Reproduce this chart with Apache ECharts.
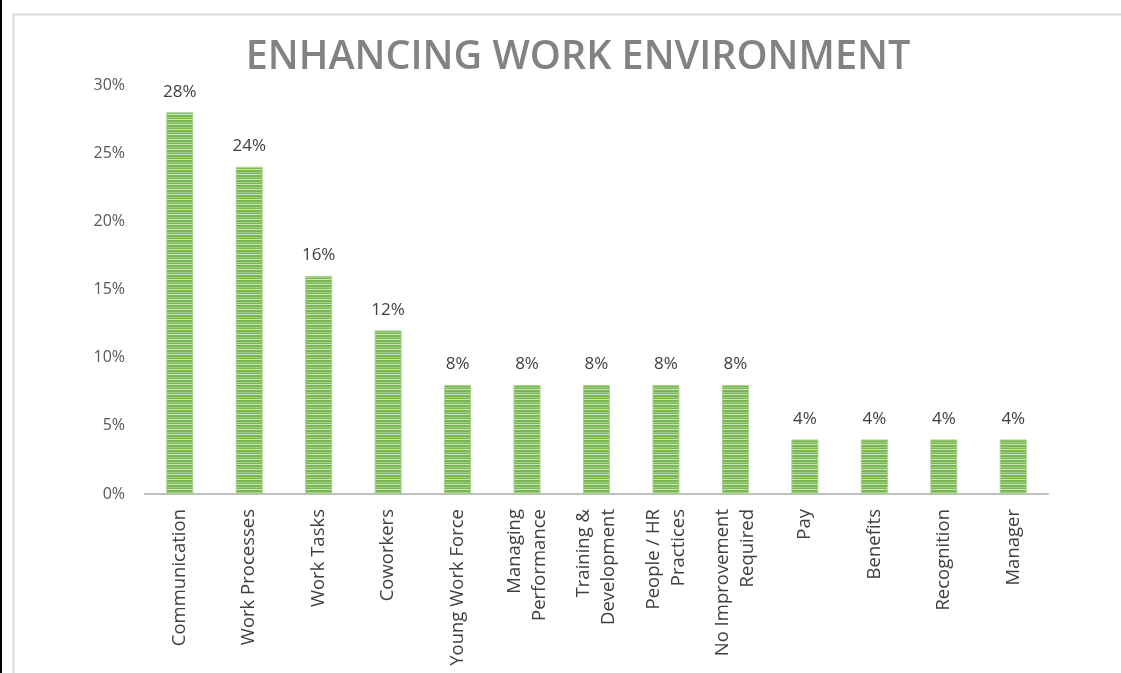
<!DOCTYPE html>
<html>
<head>
<meta charset="utf-8">
<script src="https://cdn.jsdelivr.net/npm/echarts@6/dist/echarts.min.js"></script>
<style>
  html, body { margin: 0; padding: 0; background: #fff; }
  #chart { width: 1121px; height: 673px; }
</style>
</head>
<body>
<div id="chart"></div>
<script>
// Share of responses per improvement area (percent)
const categories = [
  'Communication', 'Work Processes', 'Work Tasks', 'Coworkers', 'Young Work Force',
  'Managing\nPerformance', 'Training &\nDevelopment', 'People / HR\nPractices',
  'No Improvement\nRequired', 'Pay', 'Benefits', 'Recognition', 'Manager'
];
const shares = [28, 24, 16, 12, 8, 8, 8, 8, 8, 4, 4, 4, 4];
const yTicks = { min: 0, max: 30, interval: 5 };

// Striped green fill for the bars
function stripePattern() {
  const c = document.createElement('canvas');
  c.width = 8; c.height = 5;
  const g = c.getContext('2d');
  g.fillStyle = '#77b650'; g.fillRect(0, 0, 8, 5);
  g.fillStyle = '#9fcf82'; g.fillRect(0, 2, 8, 1);
  g.fillStyle = '#cbe6ba'; g.fillRect(0, 4, 8, 1);
  return c;
}

const chart = echarts.init(document.getElementById('chart'), null, { renderer: 'canvas' });
chart.setOption({
  backgroundColor: '#ffffff',
  animation: false,
  title: {
    text: 'ENHANCING WORK ENVIRONMENT',
    left: 573, top: 33, textAlign: 'center',
    textStyle: { fontFamily: 'Open Sans', fontWeight: 600, fontSize: 39.5, color: '#828282' }
  },
  graphic: [
    { type: 'rect', left: 0, top: 0, shape: { width: 2, height: 673 }, style: { fill: '#000' }, silent: true },
    { type: 'rect', left: 11, top: 12, shape: { width: 1200, height: 800 },
      style: { fill: 'none', stroke: '#d9d9d9', lineWidth: 2 }, silent: true }
  ],
  grid: { left: 145, right: 73, top: 85, bottom: 179, containLabel: false },
  xAxis: {
    type: 'category',
    data: categories,
    axisLine: { lineStyle: { color: '#bfbfbf', width: 2 } },
    axisTick: { show: false },
    axisLabel: {
      interval: 0, rotate: 90, margin: 15,
      fontFamily: 'Open Sans', fontSize: 18.5, color: '#404040', lineHeight: 25, align: 'right'
    }
  },
  yAxis: {
    type: 'value',
    min: yTicks.min, max: yTicks.max, interval: yTicks.interval,
    axisLine: { show: false },
    axisTick: { show: false },
    splitLine: { show: false },
    axisLabel: {
      formatter: '{value}%', margin: 20,
      fontFamily: 'Open Sans', fontSize: 16, color: '#595959'
    }
  },
  series: [{
    type: 'bar',
    data: shares,
    barWidth: 27,
    itemStyle: { color: { image: stripePattern(), repeat: 'repeat' }, borderColor: '#a9d18e', borderWidth: 1 },
    label: {
      show: true, position: 'top', distance: 12, formatter: '{c}%',
      fontFamily: 'Open Sans', fontSize: 17, color: '#404040'
    }
  }]
});
</script>
</body>
</html>
